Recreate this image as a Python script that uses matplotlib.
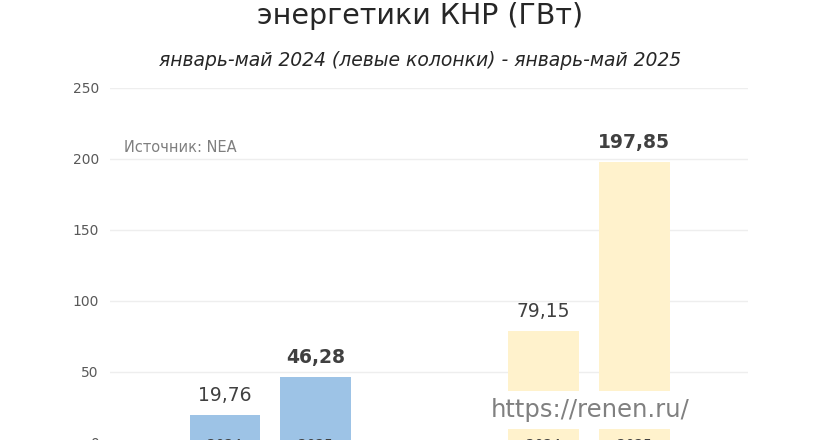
import matplotlib
matplotlib.use("Agg")
import matplotlib.pyplot as plt
import numpy as np

plt.rcParams['font.family'] = ['DejaVu Sans']

# данные
groups = ['g1', 'g2']
years = ['2024', '2025']
values = [19.76, 46.28, 79.15, 197.85]
labels = ['19,76', '46,28', '79,15', '197,85']
colors = ['#9dc3e6', '#9dc3e6', '#fff2cc', '#fff2cc']
bold = [False, True, False, True]
yticks = [0, 50, 100, 150, 200, 250]

fig = plt.figure(figsize=(8.4, 4.4), dpi=100)
ax = fig.add_axes([0.131, -0.0068, 0.759, 0.807])

pos = []
for g in range(len(groups)):
    for k in range(len(years)):
        pos.append(g * 3.5 + k)
pos = np.array(pos)

ax.bar(pos, values, width=0.78, color=colors, zorder=2)
for i in range(len(values)):
    ax.text(pos[i], values[i] + 7, labels[i], ha='center', va='bottom',
            fontsize=13.5, color='#404040',
            fontweight='bold' if bold[i] else 'normal', zorder=3)
    # подписи годов внизу колонок (обрезаны краем, как в оригинале)
    ax.text(pos[i], 3.5, years[i % 2], ha='center', va='top', fontsize=10,
            color='#404040', zorder=3)

ax.set_xlim(-1.264, 5.747)
ax.set_ylim(0, 250)
ax.set_yticks(yticks)
ax.set_yticklabels([str(t) for t in yticks], fontsize=10, color='#595959')
ax.set_xticks([])
ax.tick_params(axis='y', length=0, pad=8)
ax.grid(axis='y', color='#eeeeee', linewidth=1, zorder=0)
for s in ax.spines.values():
    s.set_visible(False)

ax.text(0.022, 208, 'Источник: NEA', transform=ax.get_yaxis_transform(),
        fontsize=10.5, color='#7f7f7f', va='center')

fig.text(0.5, 0.945, 'энергетики КНР (ГВт)', ha='center', va='baseline',
         fontsize=20.5, color='#262626')
fig.text(0.5, 0.863, 'январь-май 2024 (левые колонки) - январь-май 2025',
         ha='center', va='center', fontsize=13.5, style='italic', color='#262626')

fig.text(0.703, 0.068, 'https://renen.ru/', ha='center', va='center',
         fontsize=17.5, color='#808080', zorder=5,
         bbox=dict(facecolor='white', edgecolor='none', pad=5))

fig.savefig('out.png', dpi=100)
